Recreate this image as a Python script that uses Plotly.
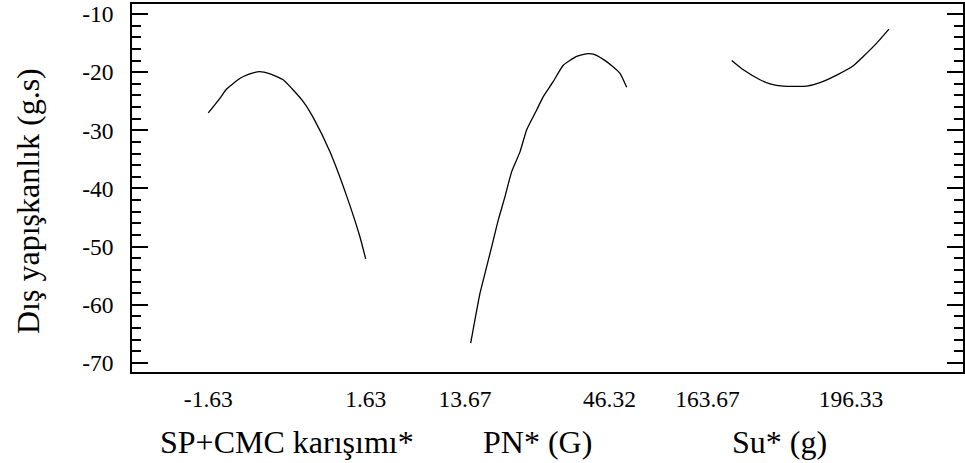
import plotly.graph_objects as go

# ---------------- data ----------------
# Factor 1: SP+CMC karışımı* (coded)
sp_x = [-1.63, -1.39, -1.25, -0.97, -0.77, -0.57, -0.35, -0.08, 0.10, 0.34, 0.55, 0.89, 1.24, 1.51, 1.63]
sp_y = [-27.0, -24.5, -22.9, -21.05, -20.3, -19.9, -20.3, -21.3, -22.8, -25.1, -27.9, -33.7, -41.4, -48.3, -52.1]

# Factor 2: PN* (G)
pn_x = [13.67, 15.62, 16.66, 18.07, 19.45, 20.85, 22.25, 23.99, 25.39, 27.48, 28.86, 30.96,
        33.05, 35.86, 38.28, 39.33, 41.42, 43.51, 44.92, 46.32]
pn_y = [-66.6, -58.0, -54.6, -50.0, -45.4, -41.4, -37.1, -33.7, -29.9, -26.5, -24.2, -21.6,
        -18.8, -17.3, -16.8, -16.9, -17.8, -19.1, -20.2, -22.6]

# Factor 3: Su* (g)
su_x = [163.67, 166.08, 169.55, 171.62, 174.38, 179.24, 182.0, 185.47, 188.92, 190.99, 193.78, 196.33]
su_y = [-18.0, -19.6, -21.3, -22.0, -22.4, -22.4, -21.8, -20.5, -18.9, -17.3, -15.0, -12.6]

factor_titles = ["SP+CMC karışımı*", "PN* (G)", "Su* (g)"]
x_tick_labels = [["-1.63", "1.63"], ["13.67", "46.32"], ["163.67", "196.33"]]
y_tick_vals = [-70, -60, -50, -40, -30, -20, -10]
y_tick_text = ["-70", "-60", "-50", "-40", "-30", "-20", "-10"]
y_title = "Dış yapışkanlık (g.s)"

# ---------------- layout / style ----------------
FONT = "Liberation Serif, Times New Roman, Times, serif"
TICK_SIZE = 23.5
TITLE_SIZE = 32

# axis ranges and label positions (styling)
x_ranges = [[-3.21, 2.527], [0.76, 58.73], [154.18, 211.7]]
x_tick_pos = [[-1.63, 1.63], [12.48, 42.72], [158.65, 188.44]]
domains = [[0, 1 / 3], [1 / 3, 2 / 3], [2 / 3, 1]]
y_range = [-71.55, -8.28]

fig = go.Figure()
for i, (xs, ys) in enumerate([(sp_x, sp_y), (pn_x, pn_y), (su_x, su_y)]):
    fig.add_trace(go.Scatter(
        x=xs, y=ys, mode="lines",
        line=dict(color="black", width=1.3, shape="spline", smoothing=0.5),
        xaxis="x" if i == 0 else f"x{i+1}", yaxis="y",
        showlegend=False, hoverinfo="skip",
    ))
# invisible carrier so the right-hand mirrored y axis is drawn
fig.add_trace(go.Scatter(x=[su_x[0]], y=[su_y[0]], mode="markers", marker=dict(opacity=0),
                         xaxis="x3", yaxis="y2", showlegend=False, hoverinfo="skip"))

layout = dict(
    width=965, height=463,
    margin=dict(l=132, r=2, t=4, b=91),
    paper_bgcolor="white", plot_bgcolor="white",
    font=dict(family=FONT, color="black", size=TICK_SIZE),
    showlegend=False,
)

for i in range(3):
    key = "xaxis" if i == 0 else f"xaxis{i+1}"
    layout[key] = dict(
        domain=domains[i], range=x_ranges[i], anchor="y",
        showgrid=False, zeroline=False,
        showline=True, linecolor="black", linewidth=1.5, mirror=True,
        ticks="", tickmode="array",
        tickvals=x_tick_pos[i], ticktext=x_tick_labels[i],
        tickfont=dict(family=FONT, size=TICK_SIZE, color="black"),
        ticklabelstandoff=5,
    )

yax_common = dict(
    range=y_range, showgrid=False, zeroline=False,
    showline=True, linecolor="black", linewidth=1.5,
    ticks="inside", ticklen=16, tickwidth=2, tickcolor="black",
    tickmode="array", tickvals=y_tick_vals,
    minor=dict(ticks="inside", ticklen=9, tickwidth=2, tickcolor="black", dtick=2, showgrid=False),
)
layout["yaxis"] = dict(
    **yax_common, anchor="x", side="left",
    ticktext=y_tick_text,
    tickfont=dict(family=FONT, size=TICK_SIZE, color="black"),
    ticklabelstandoff=12,
)
layout["yaxis2"] = dict(
    **yax_common, anchor="x3", side="right", overlaying="y",
    showticklabels=False,
)

fig.update_layout(**layout)

# factor titles centered under each pair of tick labels
for i in range(3):
    xref = "x" if i == 0 else f"x{i+1}"
    fig.add_annotation(
        x=sum(x_tick_pos[i]) / 2, xref=xref,
        y=-0.19, yref="paper", yanchor="middle",
        text=factor_titles[i], showarrow=False,
        font=dict(family=FONT, size=TITLE_SIZE, color="black"),
    )

fig.add_annotation(
    x=-0.125, xref="paper", y=0.465, yref="paper",
    xanchor="center", yanchor="middle", textangle=-90,
    text=y_title, showarrow=False,
    font=dict(family=FONT, size=TITLE_SIZE, color="black"),
)

fig.write_html("out.html")
